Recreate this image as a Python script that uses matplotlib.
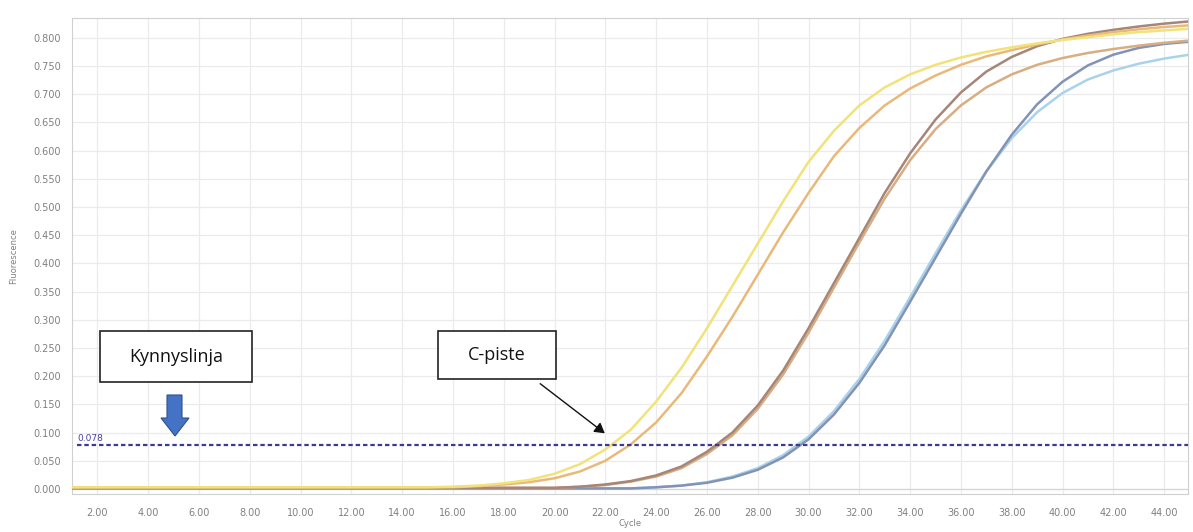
import numpy as np
import matplotlib
matplotlib.use("Agg")
import matplotlib.pyplot as plt
from matplotlib.patches import Rectangle, Polygon, FancyArrowPatch

# cycles 1..45
cycles = list(range(1, 46))

base15 = [0.003] * 15
yellow = base15 + [0.004, 0.006, 0.010, 0.016, 0.027, 0.044, 0.070, 0.105, 0.155, 0.215,
                   0.285, 0.360, 0.435, 0.510, 0.580, 0.635, 0.680, 0.712, 0.735, 0.752,
                   0.765, 0.775, 0.783, 0.790, 0.796, 0.801, 0.806, 0.810, 0.813, 0.816]
orange = base15 + [0.003, 0.005, 0.008, 0.012, 0.019, 0.031, 0.050, 0.079, 0.118, 0.170,
                   0.235, 0.305, 0.380, 0.455, 0.525, 0.590, 0.640, 0.680, 0.710, 0.733,
                   0.752, 0.767, 0.778, 0.788, 0.797, 0.804, 0.810, 0.815, 0.819, 0.822]

base20 = [0.002] * 20
dark_brown = base20 + [0.004, 0.008, 0.014, 0.024, 0.040, 0.066, 0.100, 0.148, 0.210, 0.285,
                       0.365, 0.445, 0.525, 0.595, 0.655, 0.703, 0.740, 0.766, 0.785, 0.798,
                       0.807, 0.814, 0.820, 0.825, 0.829]
tan_brown = base20 + [0.004, 0.007, 0.013, 0.022, 0.037, 0.062, 0.095, 0.142, 0.203, 0.277,
                      0.357, 0.437, 0.515, 0.583, 0.638, 0.680, 0.712, 0.735, 0.752, 0.764,
                      0.773, 0.780, 0.786, 0.791, 0.795]

base23 = [0.001] * 23
steel_blue = base23 + [0.003, 0.006, 0.011, 0.020, 0.034, 0.056, 0.088, 0.132, 0.188, 0.255,
                       0.332, 0.410, 0.488, 0.563, 0.628, 0.682, 0.722, 0.751, 0.770, 0.782,
                       0.789, 0.793]
light_blue = base23 + [0.003, 0.006, 0.012, 0.022, 0.037, 0.060, 0.093, 0.138, 0.195, 0.263,
                       0.340, 0.418, 0.494, 0.563, 0.622, 0.668, 0.702, 0.726, 0.742, 0.754,
                       0.763, 0.770]

threshold = 0.078
x_ticks = np.arange(2, 45, 2)
y_ticks = np.arange(0, 0.801, 0.05)

W, H = 1193, 532
fig = plt.figure(figsize=(W / 100, H / 100), dpi=100)
ax = fig.add_axes([72 / W, 1 - 494 / H, (1188 - 72) / W, (494 - 18) / H])

ax.set_xlim(1, 44.94)
ax.set_ylim(-0.0089, 0.835)
ax.set_xticks(x_ticks)
ax.set_xticklabels([f"{t:.2f}" for t in x_ticks])
ax.set_yticks(y_ticks)
ax.set_yticklabels([f"{t:.3f}" for t in y_ticks])
ax.tick_params(length=0, labelsize=7, labelcolor="#808080")
ax.tick_params(axis="x", pad=10)
ax.tick_params(axis="y", pad=8)
ax.grid(True, color="#ebebeb", lw=0.9)
ax.set_axisbelow(True)
for s in ax.spines.values():
    s.set_color("#d0d0d0")
    s.set_linewidth(0.8)
ax.axhline(0, color="#d5d5d5", lw=0.9, zorder=1)

series = [
    (light_blue, "#a9d3ea"),
    (steel_blue, "#8393b6"),
    (tan_brown, "#d9ad82"),
    (dark_brown, "#a58678"),
    (orange, "#e9b97a"),
    (yellow, "#f1e27a"),
]
for vals, col in series:
    ax.plot(cycles, vals, color=col, lw=1.8, solid_capstyle="round", zorder=3)

ax.plot([1.2, 44.94], [threshold, threshold], color="#3a3c8e", lw=1.6,
        ls=(0, (2.0, 1.3)), zorder=4)
ax.text(1.2, threshold + 0.003, "0.078", color="#4a40a0", fontsize=6.5,
        va="bottom", ha="left")

ax.set_xlabel("Cycle", fontsize=6, color="#808080", labelpad=1)
ax.set_ylabel("Fluorescence", fontsize=6, color="#808080", labelpad=11)


def px(x, y):
    return x / W, 1 - y / H


# annotation boxes
for (x0, y0, x1, y1, label) in [(100, 331, 252, 382, "Kynnyslinja"),
                                (438, 331, 556, 379, "C-piste")]:
    fx0, fy1 = px(x0, y1)
    rect = Rectangle((fx0, fy1), (x1 - x0) / W, (y1 - y0) / H,
                     transform=fig.transFigure, facecolor="white",
                     edgecolor="#222222", lw=1.2, zorder=10)
    fig.patches.append(rect)
    cx, cy = px((x0 + x1) / 2, (y0 + y1) / 2)
    fig.text(cx, cy, label, ha="center", va="center", fontsize=13,
             family="Open Sans", color="#111111", zorder=11)

# blue block arrow
arrow_pts = [(167, 395), (182, 395), (182, 418), (189, 418), (175, 436),
             (161, 418), (167, 418)]
poly = Polygon([px(x, y) for x, y in arrow_pts], closed=True,
               transform=fig.transFigure, facecolor="#4472c4",
               edgecolor="#2f528f", lw=0.8, zorder=10)
fig.patches.append(poly)

# C-piste arrow
arr = FancyArrowPatch(px(538, 382), px(607, 435), transform=fig.transFigure,
                      arrowstyle="-|>,head_length=6,head_width=3.5",
                      color="#111111", lw=1.0, zorder=10)
fig.patches.append(arr)

fig.savefig("out.png", dpi=100)
